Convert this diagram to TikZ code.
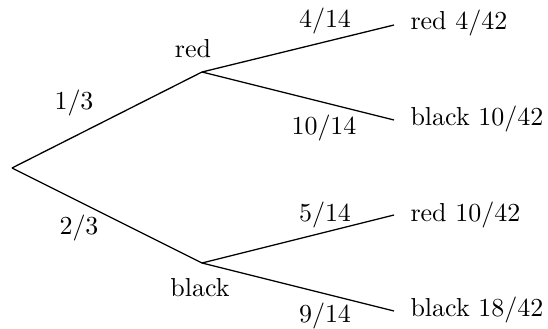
\documentclass[tikz,border=0pt]{standalone}
\begin{document}
\begin{tikzpicture}[x=0.385pt,y=-0.385pt,
  branch/.style={line width=0.5pt},
  lbl/.style={inner sep=0pt},
  leaf/.style={inner sep=0pt,anchor=west}]
\useasboundingbox (0,0) rectangle (548,329);
\coordinate (root) at (12,168);
\coordinate (r) at (202,72);
\coordinate (b) at (202,263);
\coordinate (rr) at (394,25);
\coordinate (rb) at (394,120);
\coordinate (br) at (394,215);
\coordinate (bb) at (394,311);
\draw[branch] (root) -- (r);
\draw[branch] (root) -- (b);
\draw[branch] (r) -- (rr);
\draw[branch] (r) -- (rb);
\draw[branch] (b) -- (br);
\draw[branch] (b) -- (bb);
\node[lbl] (p1) at (74,103) {$1/3$};
\node[lbl] (p2) at (79,228) {$2/3$};
\node[lbl] (nr) at (193,49) {red};
\node[lbl] (nb) at (200,288) {black};
\node[lbl] (q1) at (325,21) {$4/14$};
\node[lbl] (q2) at (324,128) {$10/14$};
\node[lbl] (q3) at (325,215) {$5/14$};
\node[lbl] (q4) at (325,316) {$9/14$};
\node[leaf] (l1) at (410,23) {red $4/42$};
\node[leaf] (l2) at (410,119) {black $10/42$};
\node[leaf] (l3) at (410,215) {red $10/42$};
\node[leaf] (l4) at (410,310) {black $18/42$};
\end{tikzpicture}
\end{document}
